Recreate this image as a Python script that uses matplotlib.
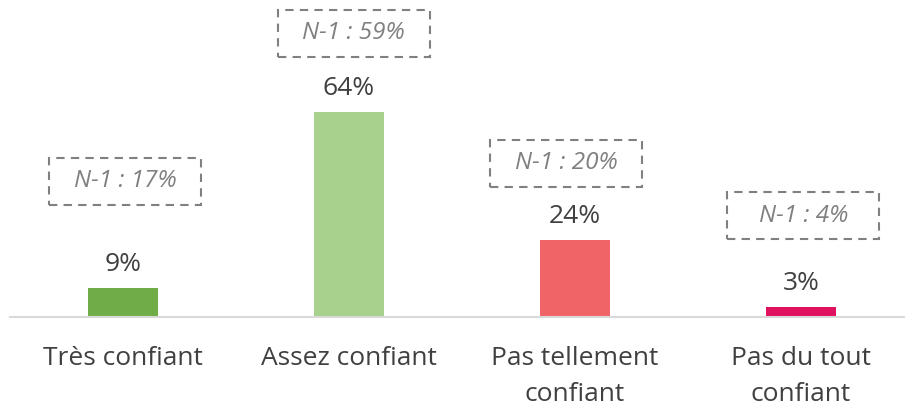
import matplotlib
matplotlib.use("Agg")
import matplotlib.pyplot as plt
from matplotlib.patches import Rectangle

categories = ["Très confiant", "Assez confiant", "Pas tellement\nconfiant", "Pas du tout\nconfiant"]
values = [9, 64, 24, 3]
previous = [17, 59, 20, 4]
value_labels = ["9%", "64%", "24%", "3%"]
previous_labels = ["N-1 : 17%", "N-1 : 59%", "N-1 : 20%", "N-1 : 4%"]

colors = ["#70AD47", "#A9D18E", "#F06467", "#E0115F"]
box_y = [42.5, 88.7, 48.1, 31.6]      # box centres (layout)
box_dx = [0.01, 0.02, -0.04, 0.01]    # box horizontal offsets (layout)

W, H = 905, 407
fig = plt.figure(figsize=(W / 100, H / 100), dpi=100)
base_px = 317
ppu = 3.2
ax = fig.add_axes([10 / W, (H - base_px) / H, 904 / W, base_px / H])
ax.set_xlim(-0.5, 3.5)
ax.set_ylim(0, base_px / ppu)
for s in ["top", "right", "left"]:
    ax.spines[s].set_visible(False)
ax.spines["bottom"].set_color("#D9D9D9")
ax.spines["bottom"].set_linewidth(1.5)
ax.set_yticks([])
ax.set_xticks([])

font = "Open Sans"
x = list(range(len(categories)))
ax.bar(x, values, width=70 / 226, color=colors, zorder=2)

for i, (v, lab) in enumerate(zip(values, value_labels)):
    ax.annotate(lab, (i, v), xytext=(0, 8), textcoords="offset points",
                ha="center", va="bottom", fontsize=19, color="#404040", family=font)

bw = 152 / 226
bh = 47 / ppu
for i, (yc, dx, lab) in enumerate(zip(box_y, box_dx, previous_labels)):
    rect = Rectangle((i + dx - bw / 2, yc - bh / 2), bw, bh, fill=False,
                     edgecolor="#808080", linestyle=(0, (4, 3)), linewidth=1.5,
                     clip_on=False)
    ax.add_patch(rect)
    ax.text(i + dx, yc, lab, ha="center", va="center", fontsize=17.5,
            style="italic", color="#808080", family=font)

for i, c in enumerate(categories):
    ax.annotate(c, (i, 0), xytext=(0, -21), textcoords="offset points",
                ha="center", va="top", fontsize=19, color="#404040",
                family=font, linespacing=1.55, annotation_clip=False)

fig.savefig("out.png", dpi=100)
